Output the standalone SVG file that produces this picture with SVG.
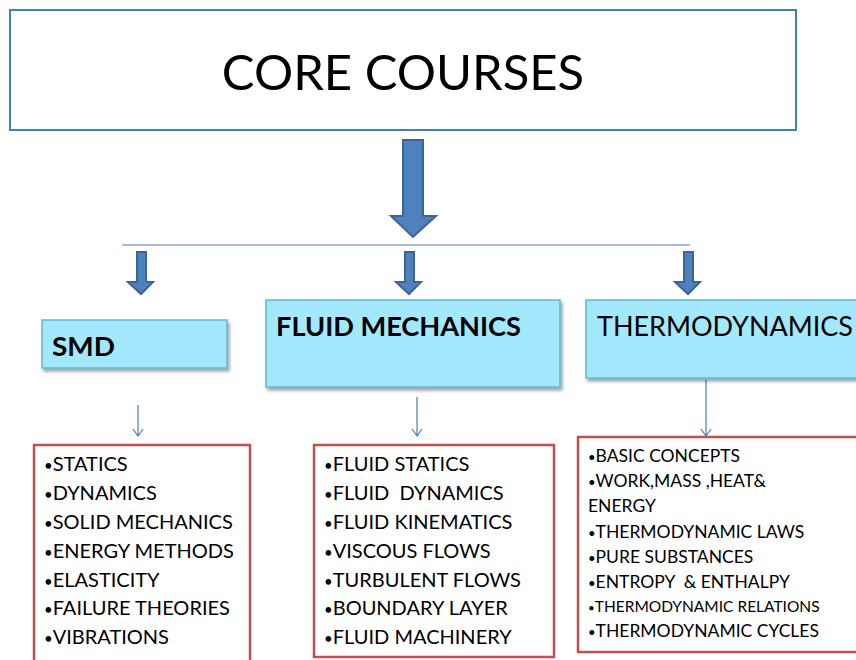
<svg xmlns="http://www.w3.org/2000/svg" width="856" height="660" viewBox="0 0 856 660">
<defs>
<style>
text{font-family:Lato,"Open Sans","Liberation Sans",sans-serif;fill:#000;white-space:pre}
.cat{fill:#a3e8fc;stroke:#5eb8d0;stroke-width:1.5}
.list{fill:#fff;stroke:#c0504d;stroke-width:2.5}
.fat{fill:#4f81bd;stroke:#3a6598;stroke-width:2}
.thin{stroke:#4a7ebb;stroke-width:1.2;fill:none}
.li{font-size:20px}
.lt{font-size:17.5px}
.b{font-size:0.75em}
</style>
<filter id="sh" x="-10%" y="-10%" width="130%" height="140%">
<feDropShadow dx="2" dy="3" stdDeviation="1.5" flood-color="#000" flood-opacity="0.35"/>
</filter>
</defs>
<rect width="856" height="660" fill="#fff"/>
<g id="core">
<rect x="10" y="10" width="786" height="120" fill="#fff" stroke="#4a7ebb" stroke-width="2"/>
<text x="403" y="90" font-size="49" text-anchor="middle">CORE COURSES</text>
</g>
<g id="connectors">
<path class="fat" d="M403,140 H423 V216 H436 L413,237 L391,216 H403 Z"/>
<line x1="122" y1="245" x2="690" y2="245" stroke="#a6bcdb" stroke-width="2"/>
<path class="fat" d="M137,252 H146 V282 H153 L141,294 L128,282 H137 Z"/>
<path class="fat" d="M405,252 H414 V282 H421 L409,294 L396,282 H405 Z"/>
<path class="fat" d="M684,252 H693 V282 H700 L688,294 L675,282 H684 Z"/>
<path class="thin" d="M138,405 V436 M133,429 L138,436 L143,429"/>
<path class="thin" d="M417,397 V436 M412,429 L417,436 L422,429"/>
<path class="thin" d="M706,380 V436 M701,429 L706,436 L711,429"/>
</g>
<g id="smd">
<rect class="cat" x="42" y="320" width="185" height="48" filter="url(#sh)"/>
<text x="52" y="356" font-size="27" font-weight="bold" textLength="63" lengthAdjust="spacingAndGlyphs">SMD</text>
</g>
<g id="fluid">
<rect class="cat" x="266" y="300" width="294" height="87" filter="url(#sh)"/>
<text x="276" y="336" font-size="27" font-weight="bold" textLength="245" lengthAdjust="spacingAndGlyphs">FLUID MECHANICS</text>
</g>
<g id="thermo">
<rect class="cat" x="586" y="300" width="280" height="78" filter="url(#sh)"/>
<text x="597" y="336" font-size="27" textLength="256" lengthAdjust="spacingAndGlyphs">THERMODYNAMICS</text>
</g>
<g id="smd-list">
<rect class="list" x="34" y="445" width="216" height="230"/>
<text class="li" x="44" y="471"><tspan class="b">•</tspan>STATICS</text>
<text class="li" x="44" y="500"><tspan class="b">•</tspan>DYNAMICS</text>
<text class="li" x="44" y="529"><tspan class="b">•</tspan>SOLID MECHANICS</text>
<text class="li" x="44" y="558"><tspan class="b">•</tspan>ENERGY METHODS</text>
<text class="li" x="44" y="587"><tspan class="b">•</tspan>ELASTICITY</text>
<text class="li" x="44" y="615"><tspan class="b">•</tspan>FAILURE THEORIES</text>
<text class="li" x="44" y="644"><tspan class="b">•</tspan>VIBRATIONS</text>
</g>
<g id="fluid-list">
<rect class="list" x="314" y="445" width="240" height="212"/>
<text class="li" x="324" y="471"><tspan class="b">•</tspan>FLUID STATICS</text>
<text class="li" x="324" y="500"><tspan class="b">•</tspan>FLUID  DYNAMICS</text>
<text class="li" x="324" y="529"><tspan class="b">•</tspan>FLUID KINEMATICS</text>
<text class="li" x="324" y="558"><tspan class="b">•</tspan>VISCOUS FLOWS</text>
<text class="li" x="324" y="587"><tspan class="b">•</tspan>TURBULENT FLOWS</text>
<text class="li" x="324" y="615"><tspan class="b">•</tspan>BOUNDARY LAYER</text>
<text class="li" x="324" y="644"><tspan class="b">•</tspan>FLUID MACHINERY</text>
</g>
<g id="thermo-list">
<rect class="list" x="578" y="437" width="290" height="215"/>
<text class="lt" x="588" y="462"><tspan class="b">•</tspan>BASIC CONCEPTS</text>
<text class="lt" x="588" y="487"><tspan class="b">•</tspan>WORK,MASS ,HEAT&amp;</text>
<text class="lt" x="588" y="512">ENERGY</text>
<text class="lt" x="588" y="538"><tspan class="b">•</tspan>THERMODYNAMIC LAWS</text>
<text class="lt" x="588" y="563"><tspan class="b">•</tspan>PURE SUBSTANCES</text>
<text class="lt" x="588" y="588"><tspan class="b">•</tspan>ENTROPY  &amp; ENTHALPY</text>
<text x="588" y="612" font-size="15.5"><tspan class="b">•</tspan>THERMODYNAMIC RELATIONS</text>
<text class="lt" x="588" y="637"><tspan class="b">•</tspan>THERMODYNAMIC CYCLES</text>
</g>
</svg>
